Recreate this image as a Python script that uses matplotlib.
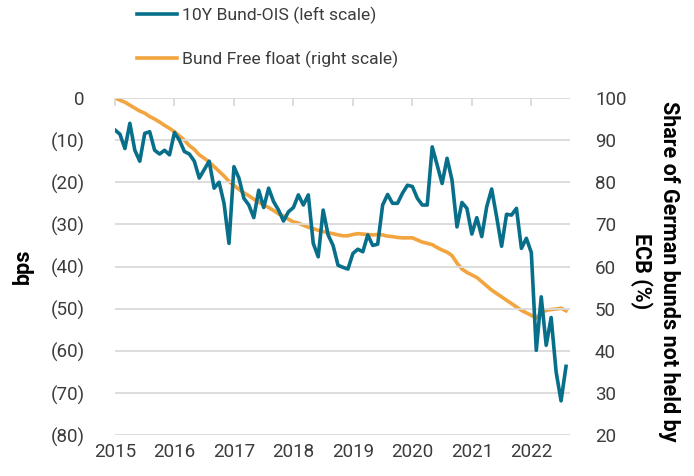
import numpy as np
import matplotlib
matplotlib.use('Agg')
import matplotlib.pyplot as plt

plt.rcParams['font.family'] = ['Roboto', 'DejaVu Sans']

# monthly data, Jan 2015 - Aug 2022
start_year = 2015
bund_ois = [
    -7.6, -8.6, -12.0, -6.0, -12.4, -15.0, -8.4, -8.0, -12.4, -13.3, -12.4, -13.5,
    -8.2, -10.0, -12.7, -13.3, -15.0, -19.0, -17.0, -15.0, -21.4, -20.0, -25.0, -34.5,
    -16.3, -19.0, -23.8, -25.4, -28.4, -21.9, -26.0, -21.4, -24.6, -26.6, -29.2, -27.0,
    -26.0, -23.0, -25.4, -23.0, -34.5, -37.7, -26.6, -32.5, -35.0, -39.7, -40.2, -40.6,
    -36.9, -35.9, -36.5, -32.5, -35.0, -34.7, -25.4, -22.9, -25.0, -25.0, -22.6, -20.7,
    -21.0, -23.8, -25.4, -25.4, -11.6, -15.9, -20.3, -14.3, -19.5, -30.6, -24.8, -26.2,
    -32.3, -28.4, -32.9, -25.8, -21.6, -28.2, -35.2, -27.6, -27.8, -26.2, -35.7, -33.3,
    -36.7, -59.9, -47.2, -58.7, -52.1, -65.0, -71.9, -63.7,
]
free_float = [
    100.0, 99.5, 99.0, 98.3, 97.6, 96.9, 96.4, 95.6, 95.0, 94.3, 93.5, 92.8,
    92.0, 91.0, 90.0, 88.7, 87.8, 86.5, 85.7, 84.8, 83.7, 82.6, 81.5, 80.2,
    79.3, 78.3, 77.5, 76.8, 76.0, 75.3, 74.6, 74.0, 73.3, 72.5, 72.0, 71.2,
    70.6, 70.3, 69.8, 69.3, 69.0, 68.6, 68.3, 68.0, 67.8, 67.5, 67.3, 67.3,
    67.6, 67.8, 67.7, 67.6, 67.5, 67.6, 67.5, 67.2, 67.1, 66.9, 66.8, 66.8,
    66.8, 66.3, 65.8, 65.5, 65.2, 64.5, 63.9, 63.4, 62.6, 60.8, 59.4, 58.6,
    58.0, 57.4, 56.4, 55.4, 54.4, 53.6, 52.8, 52.0, 51.2, 50.4, 49.6, 49.0,
    48.4, 47.8, 49.0, 49.6, 49.8, 49.9, 50.1, 49.5,
]
years = list(range(2015, 2023))
left_ticks = [0, -10, -20, -30, -40, -50, -60, -70, -80]
left_labels = ['0', '(10)', '(20)', '(30)', '(40)', '(50)', '(60)', '(70)', '(80)']
right_ticks = [100, 90, 80, 70, 60, 50, 40, 30, 20]

x = start_year + np.arange(len(bund_ois)) / 12.0

BLUE = '#086f8b'
ORANGE = '#f2a43f'
TEXT = '#3c3c3c'
GRID = '#dadada'

fig = plt.figure(figsize=(6.94, 4.76), dpi=100)
ax = fig.add_axes([0.1657, 0.0861, 0.6556, 0.708])
ax2 = ax.twinx()

l1, = ax.plot(x, bund_ois, color=BLUE, lw=2.6, solid_joinstyle='round',
              label='10Y Bund-OIS (left scale)', zorder=3)
l2, = ax2.plot(x, free_float, color=ORANGE, lw=2.6, solid_joinstyle='round',
               label='Bund Free float (right scale)', zorder=2)
ax.set_zorder(ax2.get_zorder() + 1)
ax.patch.set_visible(False)

ax.set_xlim(2015, 2022.65)
ax.set_ylim(-80, 0)
ax2.set_ylim(20, 100)

ax.set_yticks(left_ticks)
ax.set_yticklabels(left_labels)
ax2.set_yticks(right_ticks)
ax2.set_yticklabels([str(v) for v in right_ticks])
ax.set_xticks(years)
ax.set_xticklabels([str(y) for y in years])

for a in (ax, ax2):
    for s in a.spines.values():
        s.set_visible(False)

ax.grid(axis='y', color=GRID, lw=1.3, zorder=0)
ax.set_axisbelow(True)
ax.tick_params(axis='y', length=0, pad=22, labelsize=13.5, labelcolor=TEXT)
ax2.tick_params(axis='y', length=0, pad=18, labelsize=13.5, labelcolor=TEXT)
ax.tick_params(axis='x', top=True, bottom=False, direction='in', length=6,
               width=1.3, color=GRID, labeltop=False, labelbottom=True,
               pad=6, labelsize=13.5, labelcolor=TEXT)

# axis titles placed directly in figure coords
fig.text(23 / 694, 1 - 266 / 476, 'bps', rotation=90, ha='center', va='center',
         fontsize=15.5, fontweight='bold', color='black')
fig.text(655 / 694, 1 - 271 / 476, 'Share of German bunds not held by\nECB (%)',
         rotation=270, ha='center', va='center', multialignment='center',
         fontsize=15.5, fontweight='bold', color='black', linespacing=1.3)

fig.legend(handles=[l1, l2], loc='upper left', bbox_to_anchor=(137 / 694, 0.986),
           frameon=False, fontsize=12.6, handlelength=2.3, handletextpad=0.25,
           labelspacing=1.55, borderpad=0, borderaxespad=0, labelcolor=TEXT)

fig.savefig('out.png', dpi=100)
